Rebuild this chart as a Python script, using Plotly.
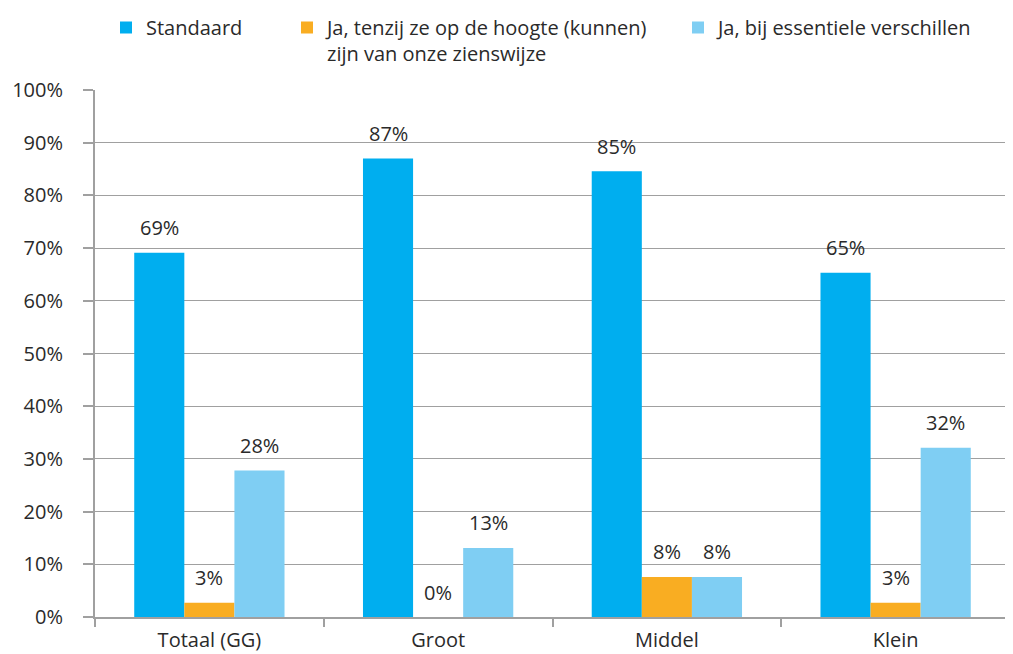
import plotly.graph_objects as go

categories = ["Totaal (GG)", "Groot", "Middel", "Klein"]
series_names = [
    "Standaard",
    "Ja, tenzij ze op de hoogte (kunnen)<br>zijn van onze zienswijze",
    "Ja, bij essentiele verschillen",
]
standaard = [69.1, 87.0, 84.6, 65.3]
tenzij = [2.7, 0.0, 7.6, 2.7]
essentieel = [27.8, 13.1, 7.6, 32.1]
series_values = [standaard, tenzij, essentieel]
colors = ["#00AEEF", "#F9AD22", "#7FCEF3"]

FONT = "Open Sans"
TXT = "#2a2a2a"
AXC = "#A0A0A0"
BARGAP = 0.343

# page body adds an 8px offset; figure coordinates below compensate for it
OFF = 8
W, H = 1013 - OFF, 654 - OFF
ML, MR, MT, MB = 95 - OFF, 3, 90 - OFF, 37
PW, PH = W - ML - MR, H - MT - MB

fig = go.Figure()
legend_ids = ["legend", "legend2", "legend3"]
for name, vals, col, lg in zip(series_names, series_values, colors, legend_ids):
    fig.add_trace(go.Bar(
        x=categories, y=vals, name=name, marker=dict(color=col, line=dict(width=0)),
        legend=lg, showlegend=True,
    ))

# data labels
bw = (1 - BARGAP) / 3
for s, vals in enumerate(series_values):
    off = (s - 1) * bw
    for i, v in enumerate(vals):
        fig.add_annotation(
            x=i + off, y=v, xref="x", yref="y", text=f"{round(v):.0f}%",
            showarrow=False, yanchor="middle", yshift=25,
            font=dict(family=FONT, size=20, color=TXT),
        )

leg_y = 1 + MT / PH
leg_common = dict(
    orientation="v", yanchor="top", xanchor="left", y=leg_y, valign="top",
    bgcolor="rgba(0,0,0,0)", font=dict(family=FONT, size=20, color=TXT),
)
fig.update_layout(
    width=W, height=H, showlegend=True,
    paper_bgcolor="white", plot_bgcolor="white",
    margin=dict(l=ML, r=MR, t=MT, b=MB, autoexpand=False),
    barmode="group", bargap=BARGAP, bargroupgap=0,
    font=dict(family=FONT, size=20, color=TXT),
    legend=dict(x=(106 - 95) / PW, **leg_common),
    legend2=dict(x=(287 - 95) / PW, **leg_common),
    legend3=dict(x=(678 - 95) / PW, **leg_common),
    xaxis=dict(
        type="category", range=[-0.5, len(categories) - 0.5],
        showline=True, linecolor=AXC, linewidth=2, ticks="outside",
        tickson="boundaries", ticklen=8, tickwidth=2, tickcolor=AXC,
        showgrid=False, ticklabelstandoff=4,
        tickfont=dict(family=FONT, size=20, color=TXT),
    ),
    yaxis=dict(
        range=[0, 100], dtick=10, ticksuffix="%", showgrid=True,
        gridcolor=AXC, gridwidth=1.3, showline=True, linecolor=AXC,
        linewidth=2, ticks="outside", ticklen=10, tickwidth=2, tickcolor=AXC,
        zeroline=False, ticklabelstandoff=16,
        tickfont=dict(family=FONT, size=20, color=TXT),
    ),
)

fig.write_html("out.html")
